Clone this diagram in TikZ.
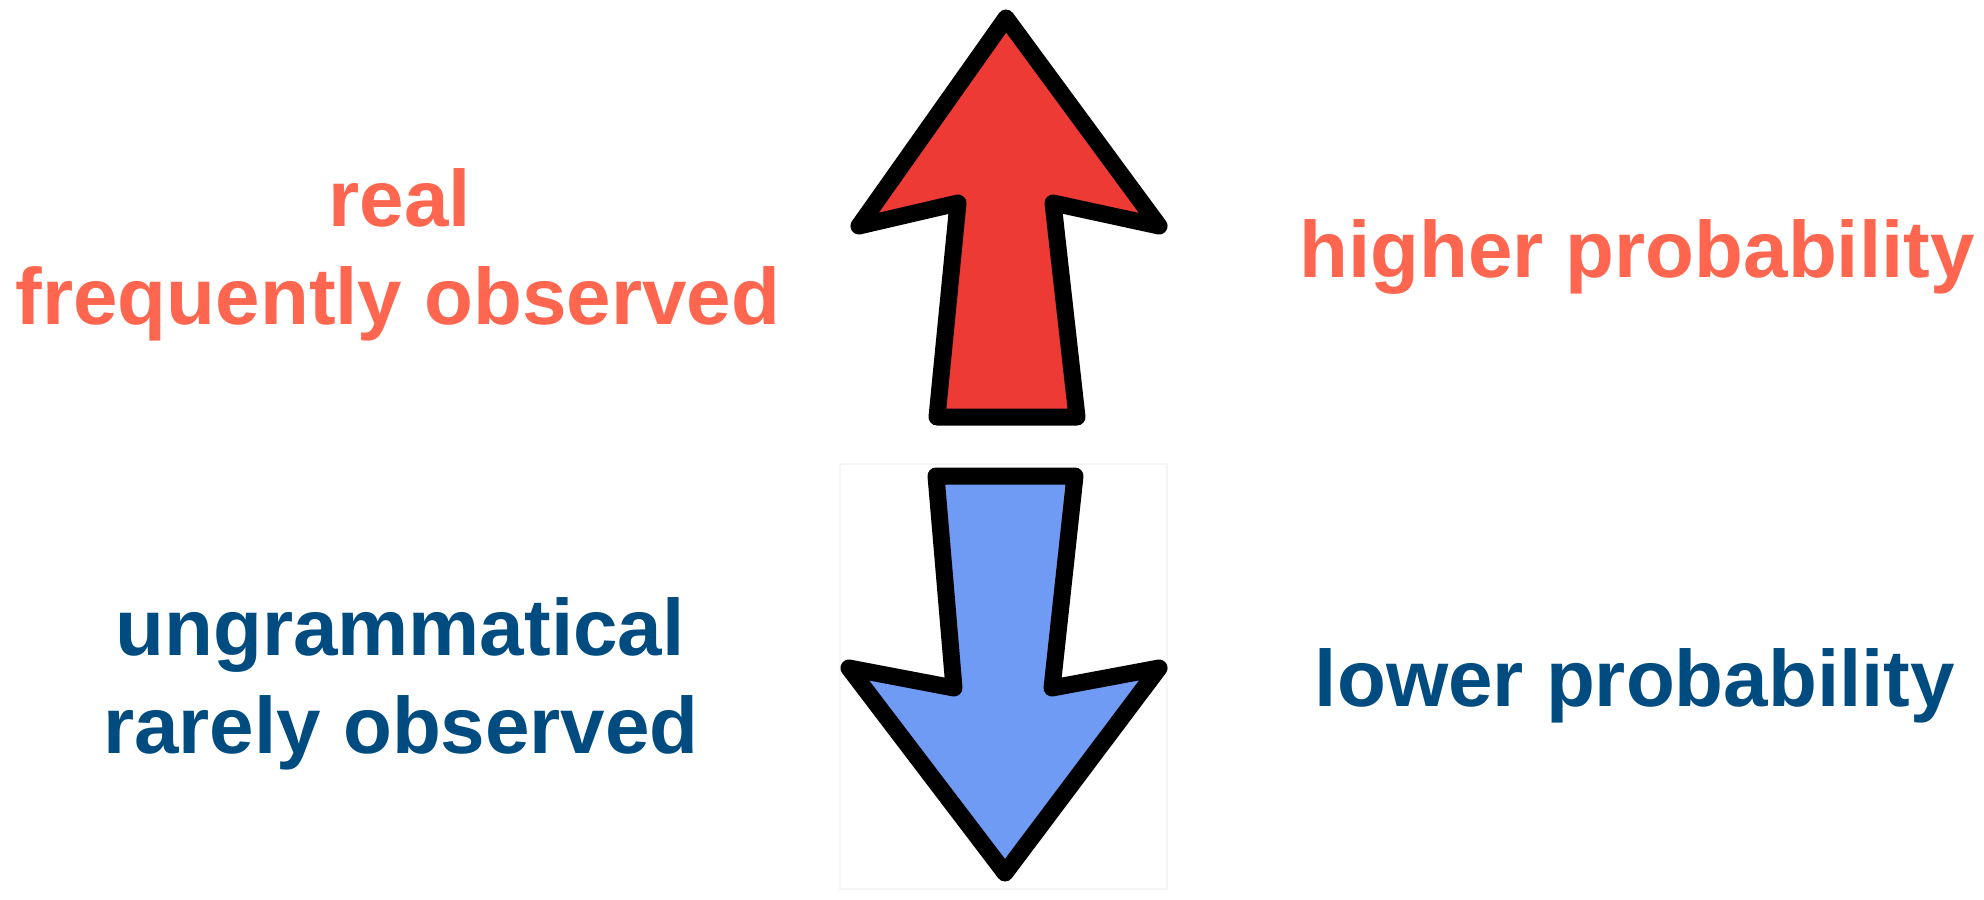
\documentclass[tikz,border=0pt]{standalone}
\usepackage{fontspec}
\setmainfont{Liberation Sans}
\definecolor{hiorange}{HTML}{FF6650}
\definecolor{loblue}{HTML}{004C80}
\definecolor{arrred}{HTML}{EE3A35}
\definecolor{arrblue}{HTML}{6F9BF5}
\tikzset{
  lbl/.style={anchor=base, inner sep=0pt, font=\bfseries\fontsize{40}{48}\selectfont},
  hi/.style={lbl, text=hiorange},
  lo/.style={lbl, text=loblue},
  arrowshape/.style={draw=black, line width=8.5pt, line join=round, line cap=round}
}
\begin{document}
\begin{tikzpicture}[x=0.5pt, y=-0.5pt]
  \useasboundingbox (0,0) rectangle (1984,899);
  \fill[white] (0,0) rectangle (1984,899);
  % faint frame behind the down arrow
  \draw[black!4, line width=1pt] (840,464) rectangle (1167,889);
  % up arrow
  \draw[arrowshape, fill=arrred]
    (1006,18) -- (1159,226) -- (1053,203) -- (1077,417) -- (937,417) -- (958,203) -- (859,226) -- cycle;
  % down arrow
  \draw[arrowshape, fill=arrblue]
    (936,476) -- (1075,476) -- (1052,688) -- (1159,668) -- (1005,873) -- (849,668) -- (954,688) -- cycle;
  % left texts
  \node[hi] (real) at (400,226) {real};
  \node[hi] (freq) at (398,324) {frequently observed};
  \node[lo] (ungram) at (400,655) {ungrammatical};
  \node[lo] (rarely) at (401,753) {rarely observed};
  % right texts
  \node[hi] (higher) at (1637,277) {higher probability};
  \node[lo] (lower) at (1635,706) {lower probability};
\end{tikzpicture}
\end{document}
